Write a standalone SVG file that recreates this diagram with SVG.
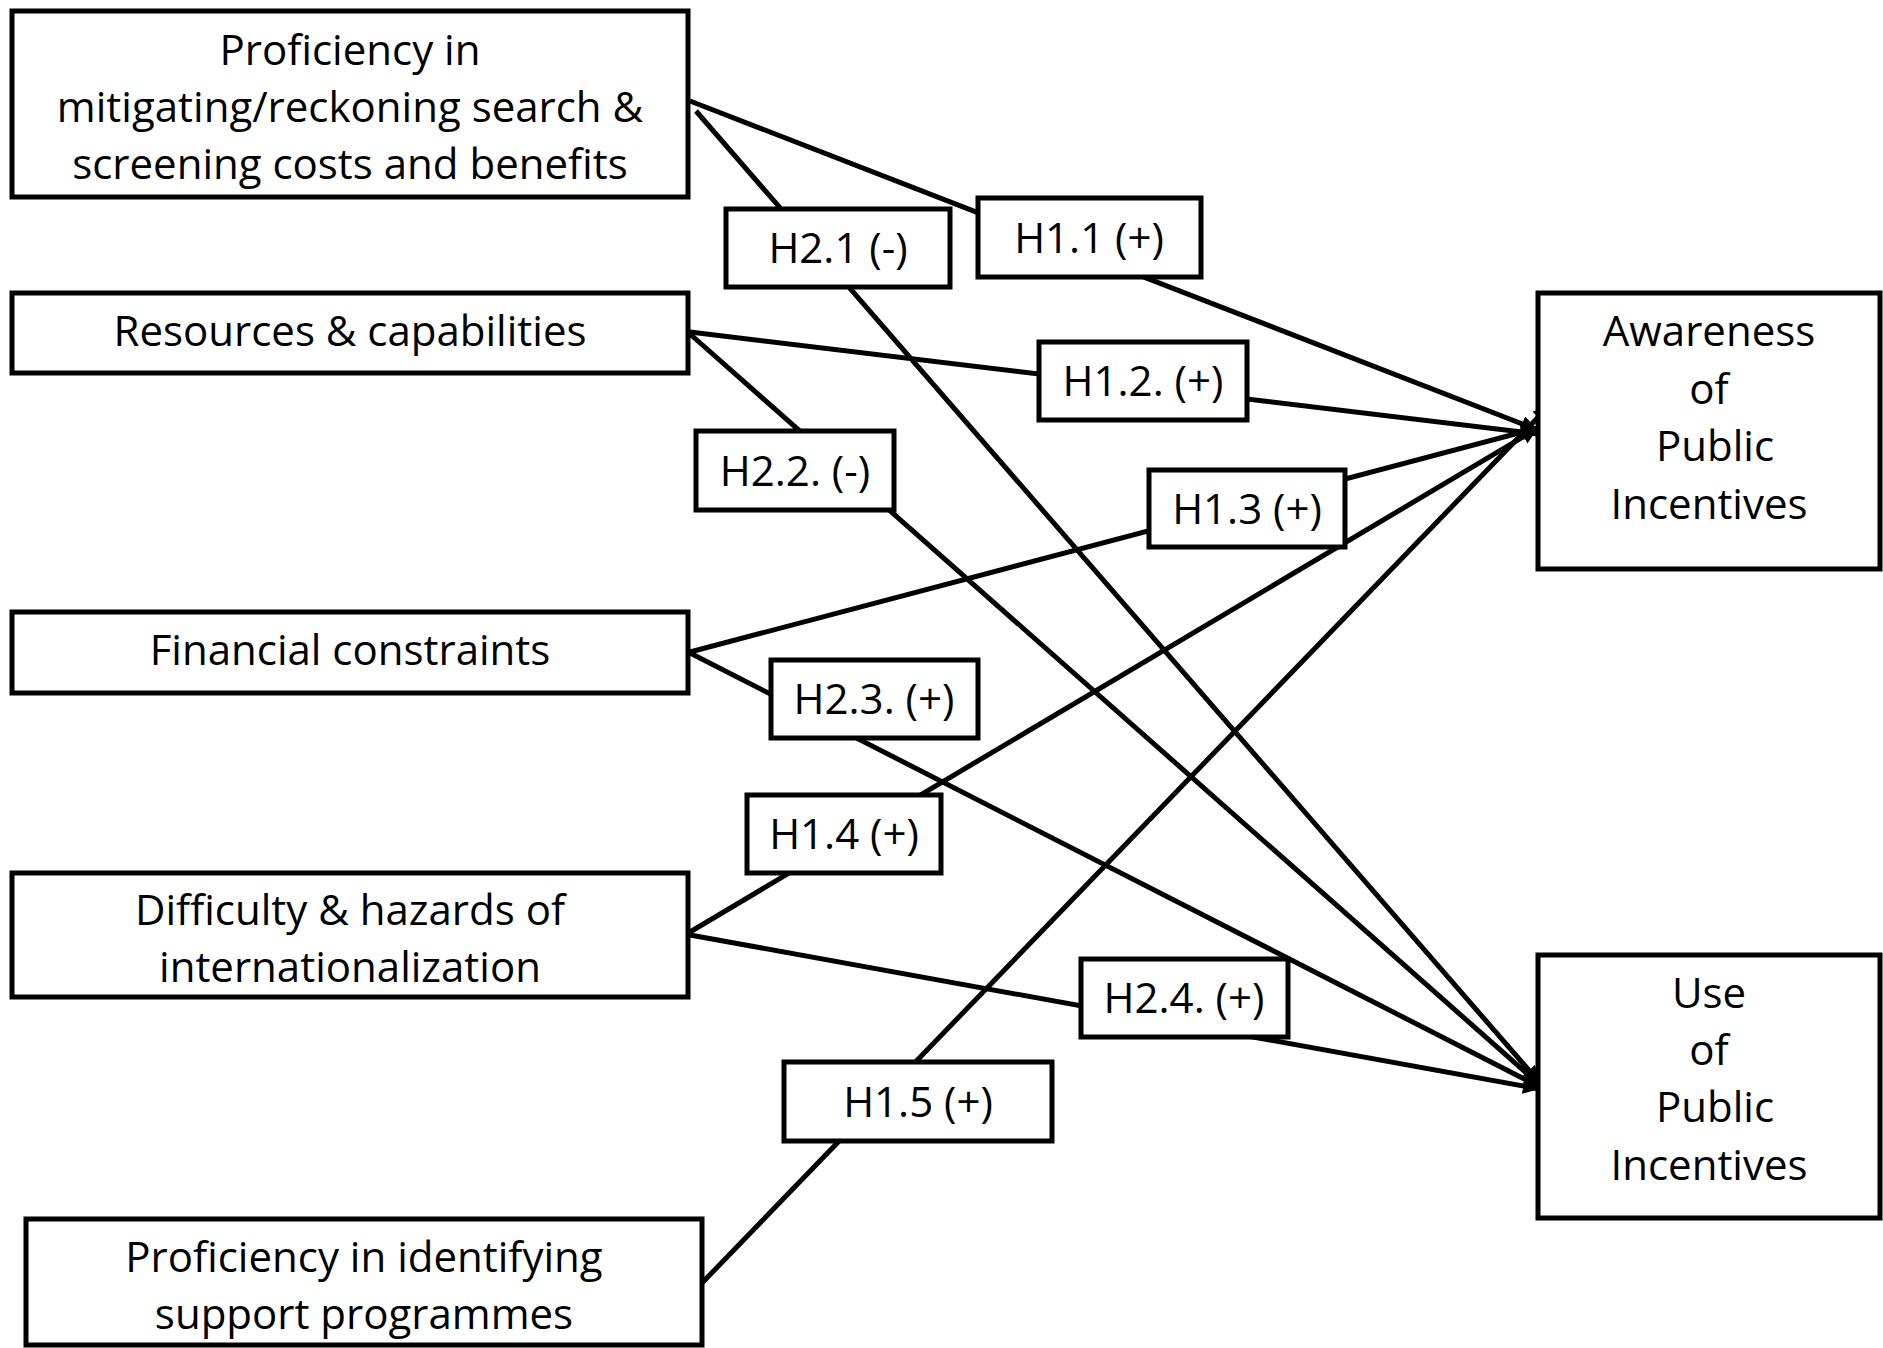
<svg xmlns="http://www.w3.org/2000/svg" width="1883" height="1348" viewBox="0 0 1883 1348">
<style>
.box{fill:#fff;stroke:#000;stroke-width:5}
.lbl{fill:#fff;stroke:#000;stroke-width:5}
.t{font-family:"Open Sans","Noto Sans","Liberation Sans",sans-serif;font-size:42px;fill:#000;text-anchor:middle}
.c{stroke:#000;stroke-width:5;fill:none;marker-end:url(#ah)}
</style>
<defs>
<marker id="ah" markerUnits="userSpaceOnUse" markerWidth="20" markerHeight="18" refX="17" refY="8" orient="auto">
<path d="M0,0 L17,8 L0,16 z" fill="#000"/>
</marker>
</defs>
<rect width="1883" height="1348" fill="#fff"/>
<g id="connectors">
<line class="c" x1="690" y1="101" x2="1538" y2="430"/>
<line class="c" x1="696" y1="111" x2="1540" y2="1083"/>
<line class="c" x1="690" y1="332" x2="1538" y2="434"/>
<line class="c" x1="690" y1="334" x2="1540" y2="1085"/>
<line class="c" x1="690" y1="652" x2="1538" y2="428"/>
<line class="c" x1="690" y1="653" x2="1540" y2="1087"/>
<line class="c" x1="690" y1="932" x2="1538" y2="428"/>
<line class="c" x1="690" y1="935" x2="1540" y2="1089"/>
<line class="c" x1="702" y1="1283" x2="1550" y2="405"/>
</g>
<g id="label-h21"><rect class="lbl" x="726" y="209" width="224" height="78"/><text class="t" x="838" y="263">H2.1 (-)</text></g>
<g id="label-h11"><rect class="lbl" x="978" y="198" width="223" height="79"/><text class="t" x="1089" y="253">H1.1 (+)</text></g>
<g id="label-h12"><rect class="lbl" x="1039" y="342" width="208" height="78"/><text class="t" x="1143" y="396">H1.2. (+)</text></g>
<g id="label-h22"><rect class="lbl" x="696" y="431" width="198" height="79"/><text class="t" x="795" y="486">H2.2. (-)</text></g>
<g id="label-h13"><rect class="lbl" x="1149" y="470" width="196" height="77"/><text class="t" x="1247" y="524">H1.3 (+)</text></g>
<g id="label-h23"><rect class="lbl" x="771" y="660" width="207" height="78"/><text class="t" x="874" y="714">H2.3. (+)</text></g>
<g id="label-h14"><rect class="lbl" x="747" y="795" width="194" height="78"/><text class="t" x="844" y="849">H1.4 (+)</text></g>
<g id="label-h24"><rect class="lbl" x="1081" y="959" width="207" height="78"/><text class="t" x="1184" y="1013">H2.4. (+)</text></g>
<g id="label-h15"><rect class="lbl" x="784" y="1062" width="268" height="79"/><text class="t" x="918" y="1117">H1.5 (+)</text></g>
<g id="node-search">
<rect class="box" x="12" y="11" width="676" height="186"/>
<text class="t" x="350" y="65">Proficiency in</text>
<text class="t" x="350" y="122">mitigating/reckoning search &amp;</text>
<text class="t" x="350" y="179">screening costs and benefits</text>
</g>
<g id="node-resources">
<rect class="box" x="12" y="293" width="676" height="80"/>
<text class="t" x="350" y="346">Resources &amp; capabilities</text>
</g>
<g id="node-financial">
<rect class="box" x="12" y="612" width="676" height="81"/>
<text class="t" x="350" y="665">Financial constraints</text>
</g>
<g id="node-difficulty">
<rect class="box" x="12" y="873" width="676" height="124"/>
<text class="t" x="350" y="925">Difficulty &amp; hazards of</text>
<text class="t" x="350" y="982">internationalization</text>
</g>
<g id="node-identifying">
<rect class="box" x="26" y="1219" width="676" height="126"/>
<text class="t" x="364" y="1272">Proficiency in identifying</text>
<text class="t" x="364" y="1329">support programmes</text>
</g>
<g id="node-awareness">
<rect class="box" x="1538" y="293" width="342" height="276"/>
<text class="t" x="1709" y="346">Awareness</text>
<text class="t" x="1709" y="404">of</text>
<text class="t" x="1715" y="461">Public</text>
<text class="t" x="1709" y="519">Incentives</text>
</g>
<g id="node-use">
<rect class="box" x="1538" y="955" width="342" height="263"/>
<text class="t" x="1709" y="1008">Use</text>
<text class="t" x="1709" y="1065">of</text>
<text class="t" x="1715" y="1122">Public</text>
<text class="t" x="1709" y="1180">Incentives</text>
</g>
</svg>
